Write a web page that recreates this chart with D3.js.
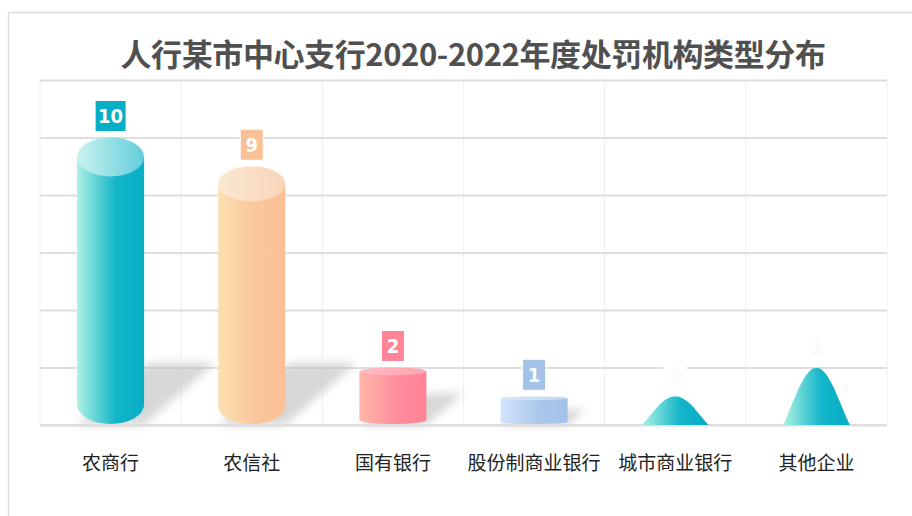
<!DOCTYPE html>
<html>
<head>
<meta charset="utf-8">
<script src="https://cdn.jsdelivr.net/npm/d3@7"></script>
<style>
  html, body { margin: 0; padding: 0; background: #fff; }
  svg { display: block; }
</style>
</head>
<body>
<div id="chart"></div>
<script>
const categories = ["农商行", "农信社", "国有银行", "股份制商业银行", "城市商业银行", "其他企业"];
const values = [10, 9, 2, 1, 1, 2];
const yTicks = [0, 2, 4, 6, 8, 10, 12];
const title = "人行某市中心支行2020-2022年度处罚机构类型分布";

// colours per bar: [left, mid, right, top-left, top-right]
const palette = [
    ["#aef1e3", "#12b5c9", "#08aec6", "#c9f3ee", "#62cddb"],
    ["#fbe0b2", "#fbc59a", "#fbc196", "#fbe8d3", "#f9d5b9"],
    ["#ffb6a9", "#ff8c9c", "#ff8497", "#ffbcc4", "#ffa2b1"],
    ["#d3e4fc", "#aac7eb", "#a4c2e8", "#dce8f8", "#c2d6f1"],
    ["#aef1e3", "#12b5c9", "#08aec6"],
    ["#aef1e3", "#12b5c9", "#08aec6"]
];

const width = 912, height = 516;
const margin = {top: 80, right: 25, bottom: 91, left: 40};
const base = height - margin.bottom;

const svg = d3.select("#chart")
    .append("svg")
    .attr("width", width)
    .attr("height", height);

const defs = svg.append("defs");

palette.forEach((c, i) => {
    let g = defs.append("linearGradient").attr("id", "body" + i);
    g.append("stop").attr("offset", "0%").attr("stop-color", c[0]);
    g.append("stop").attr("offset", "58%").attr("stop-color", c[1]);
    g.append("stop").attr("offset", "100%").attr("stop-color", c[2]);
    if (c[3]) {
        let t = defs.append("linearGradient").attr("id", "top" + i);
        t.append("stop").attr("offset", "0%").attr("stop-color", c[3]);
        t.append("stop").attr("offset", "100%").attr("stop-color", c[4]);
    }
});

defs.append("filter").attr("id", "blur")
    .attr("x", "-50%").attr("y", "-50%").attr("width", "200%").attr("height", "200%")
    .append("feGaussianBlur").attr("stdDeviation", 4);

// outer frame
svg.append("rect")
    .attr("x", 8.5).attr("y", 12.5)
    .attr("width", 1000).attr("height", 600)
    .attr("fill", "none")
    .attr("stroke", "#dcdcdc")
    .attr("stroke-width", 1.5);

svg.append("text")
    .attr("x", 473)
    .attr("y", 66)
    .attr("text-anchor", "middle")
    .style("font-family", "'Noto Sans CJK SC', sans-serif")
    .style("font-weight", "bold")
    .style("font-size", "31px")
    .style("letter-spacing", "-0.4px")
    .attr("fill", "#505050")
    .text(title);

const x = d3.scaleBand()
    .domain(categories)
    .range([margin.left, width - margin.right]);

const y = d3.scaleLinear()
    .domain([0, 12])
    .range([base, margin.top]);

// vertical grid
svg.append("g")
    .selectAll("line")
    .data(categories.concat([null]))
    .join("line")
    .attr("x1", (d, i) => margin.left + i * x.step())
    .attr("x2", (d, i) => margin.left + i * x.step())
    .attr("y1", margin.top)
    .attr("y2", base)
    .attr("stroke", "#f0f0f0")
    .attr("stroke-width", 1);

// horizontal grid
const grid = svg.append("g")
    .attr("transform", `translate(${margin.left},0)`)
    .call(d3.axisLeft(y).tickValues(yTicks).tickSize(-(width - margin.left - margin.right)).tickFormat(""));
grid.select(".domain").remove();
grid.selectAll(".tick line")
    .attr("stroke", "#dedede")
    .attr("stroke-width", 2);

const bw = x.bandwidth() * 0.475;

// shadows for cylinders
values.forEach((v, i) => {
    if (i > 3) return;
    const cx = x(categories[i]) + x.bandwidth() / 2;
    const h = base - y(v);
    const sh = Math.min(62, h * 0.55);
    const L = sh * 1.15;
    const xl = cx - bw / 2, xr = cx + bw / 2;
    svg.append("path")
        .attr("d", `M${xl},${base}L${xr},${base}L${xr + L},${base - sh}L${xl + L},${base - sh}Z`)
        .attr("fill", "#bdbdbd")
        .attr("opacity", 0.6)
        .attr("filter", "url(#blur)");
});

// redraw baseline over shadows
svg.append("line")
    .attr("x1", margin.left).attr("x2", width - margin.right)
    .attr("y1", base).attr("y2", base)
    .attr("stroke", "#dedede").attr("stroke-width", 2);

values.forEach((v, i) => {
    const cx = x(categories[i]) + x.bandwidth() / 2;
    const top = y(v);
    const h = base - top;
    const xl = cx - bw / 2, xr = cx + bw / 2;

    if (i <= 3) {
        const ry = Math.max(2, h * 0.068);
        const rx = bw / 2;
        const bot = base - 1;
        svg.append("path")
            .attr("d", `M${xl},${top + ry}L${xl},${bot - ry}A${rx},${ry} 0 0 0 ${xr},${bot - ry}L${xr},${top + ry}Z`)
            .attr("fill", `url(#body${i})`);
        svg.append("ellipse")
            .attr("cx", cx).attr("cy", top + ry)
            .attr("rx", rx).attr("ry", ry)
            .attr("fill", `url(#top${i})`);
    } else {
        const pts = d3.range(0, 1.0001, 0.05).map(t => [xl + t * bw, base - h * Math.pow(Math.sin(Math.PI * t), 1.15)]);
        svg.append("path")
            .attr("d", d3.line().curve(d3.curveBasis)(pts))
            .attr("fill", `url(#body${i})`);
    }

    // value label
    const label = String(v);
    const lw = label.length > 1 ? 31 : 23;
    const lh = 31;
    const ly = top - 6 - lh;
    const visible = i <= 3;
    svg.append("rect")
        .attr("x", cx - lw / 2).attr("y", ly)
        .attr("width", lw).attr("height", lh)
        .attr("fill", visible ? palette[i][2] : "#fff")
        .attr("stroke", "#fff").attr("stroke-width", 1);
    svg.append("text")
        .attr("x", cx).attr("y", ly + lh / 2 + 7)
        .attr("text-anchor", "middle")
        .style("font-family", "'DejaVu Sans Condensed', 'DejaVu Sans', sans-serif")
        .style("font-weight", "bold")
        .style("font-size", "20px")
        .attr("fill", "#fff")
        .attr("stroke", visible ? "none" : "#eeeeee")
        .attr("stroke-width", 0.4)
        .text(label);
});

// category labels
svg.append("g")
    .selectAll("text")
    .data(categories)
    .join("text")
    .attr("x", d => x(d) + x.bandwidth() / 2)
    .attr("y", 470)
    .attr("text-anchor", "middle")
    .style("font-family", "'Noto Sans CJK SC', sans-serif")
    .style("font-size", "19px")
    .attr("fill", "#222")
    .text(d => d);
</script>
</body>
</html>
